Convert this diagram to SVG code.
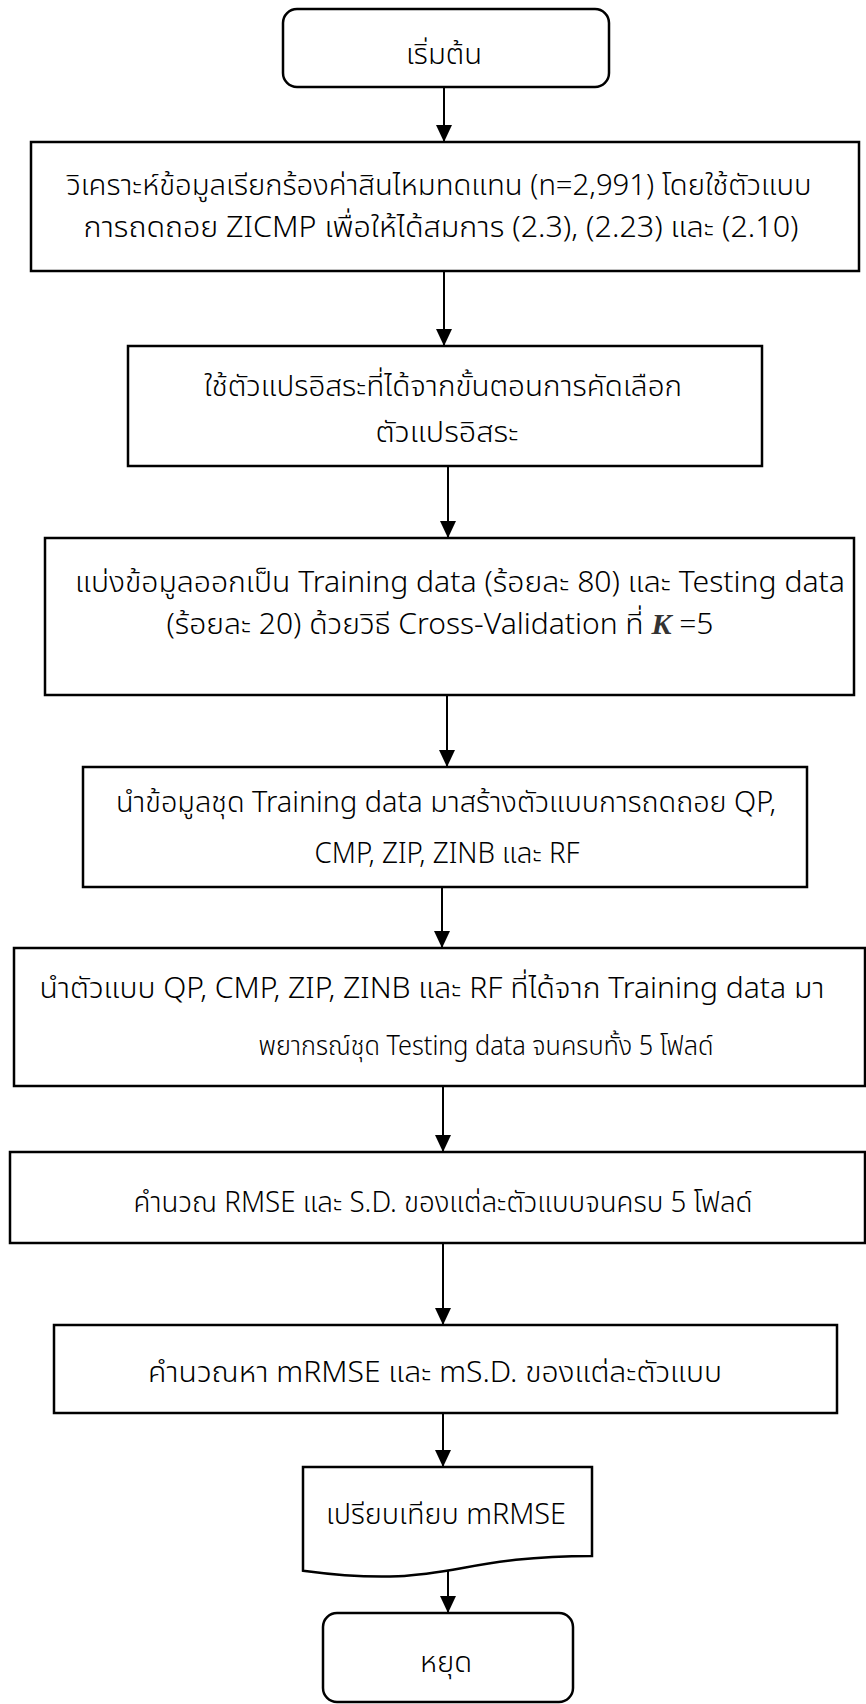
<svg xmlns="http://www.w3.org/2000/svg" width="866" height="1704" viewBox="0 0 866 1704">
<defs>
<marker id="ah" markerWidth="17" markerHeight="16" refX="17" refY="8" orient="auto" markerUnits="userSpaceOnUse">
<path d="M0,0 L17,8 L0,16 Z" fill="#000"/>
</marker>
<style>
.box{fill:#fff;stroke:#000;stroke-width:2.5}
.t{font-family:"Noto Sans Thai","Noto Sans Thai UI","Leelawadee UI",Tahoma,"Noto Sans",sans-serif;font-size:29px;font-weight:300;fill:#000;text-anchor:middle}
.s{font-size:27px}
.k{font-family:"Liberation Serif",serif;font-style:italic;font-weight:bold;fill:#333}
.c{stroke:#000;stroke-width:2;fill:none;marker-end:url(#ah)}
</style>
</defs>
<rect width="866" height="1704" fill="#fff"/>
<g id="connectors">
<line class="c" x1="444" y1="87" x2="444" y2="142"/>
<line class="c" x1="444" y1="271" x2="444" y2="346"/>
<line class="c" x1="448" y1="466" x2="448" y2="538"/>
<line class="c" x1="447" y1="695" x2="447" y2="767"/>
<line class="c" x1="442" y1="887" x2="442" y2="948"/>
<line class="c" x1="443" y1="1086" x2="443" y2="1152"/>
<line class="c" x1="443" y1="1243" x2="443" y2="1325"/>
<line class="c" x1="443" y1="1413" x2="443" y2="1467"/>
<line class="c" x1="448" y1="1570" x2="448" y2="1613"/>
</g>
<g id="start">
<rect class="box" x="283" y="9" width="326" height="78" rx="14"/>
<text class="t" x="444" y="64" textLength="76" lengthAdjust="spacingAndGlyphs">เริ่มต้น</text>
</g>
<g id="analyze">
<rect class="box" x="31" y="142" width="828" height="129"/>
<text class="t" x="439" y="195" textLength="745" lengthAdjust="spacingAndGlyphs">วิเคราะห์ข้อมูลเรียกร้องค่าสินไหมทดแทน (n=2,991) โดยใช้ตัวแบบ</text>
<text class="t" x="441" y="237" textLength="715" lengthAdjust="spacingAndGlyphs">การถดถอย ZICMP เพื่อให้ได้สมการ (2.3), (2.23) และ (2.10)</text>
</g>
<g id="variables">
<rect class="box" x="128" y="346" width="634" height="120"/>
<text class="t" x="443" y="396" textLength="478" lengthAdjust="spacingAndGlyphs">ใช้ตัวแปรอิสระที่ได้จากขั้นตอนการคัดเลือก</text>
<text class="t" x="447" y="442" textLength="143" lengthAdjust="spacingAndGlyphs">ตัวแปรอิสระ</text>
</g>
<g id="split">
<rect class="box" x="45" y="538" width="809" height="157"/>
<text class="t" x="460" y="592" textLength="770" lengthAdjust="spacingAndGlyphs">แบ่งข้อมูลออกเป็น Training data (ร้อยละ 80) และ Testing data</text>
<text class="t" x="440" y="634" textLength="547" lengthAdjust="spacingAndGlyphs">(ร้อยละ 20) ด้วยวิธี Cross-Validation ที่ <tspan class="k">K</tspan> =5</text>
</g>
<g id="train">
<rect class="box" x="83" y="767" width="724" height="120"/>
<text class="t" x="446" y="812" textLength="660" lengthAdjust="spacingAndGlyphs">นำข้อมูลชุด Training data มาสร้างตัวแบบการถดถอย QP,</text>
<text class="t" x="447" y="863" textLength="265" lengthAdjust="spacingAndGlyphs">CMP, ZIP, ZINB และ RF</text>
</g>
<g id="predict">
<rect class="box" x="14" y="948" width="851" height="138"/>
<text class="t" x="432" y="998" textLength="785" lengthAdjust="spacingAndGlyphs">นำตัวแบบ QP, CMP, ZIP, ZINB และ RF ที่ได้จาก Training data  มา</text>
<text class="t s" x="486" y="1055" textLength="455" lengthAdjust="spacingAndGlyphs">พยากรณ์ชุด Testing data จนครบทั้ง 5 โฟลด์</text>
</g>
<g id="rmse">
<rect class="box" x="10" y="1152" width="855" height="91"/>
<text class="t" x="443" y="1212" textLength="619" lengthAdjust="spacingAndGlyphs">คำนวณ RMSE และ S.D. ของแต่ละตัวแบบจนครบ 5 โฟลด์</text>
</g>
<g id="mrmse">
<rect class="box" x="54" y="1325" width="783" height="88"/>
<text class="t" x="435" y="1382" textLength="574" lengthAdjust="spacingAndGlyphs">คำนวณหา mRMSE และ mS.D. ของแต่ละตัวแบบ</text>
</g>
<g id="compare">
<path class="box" d="M303,1467 H592 V1556 C447.5,1556 447.5,1590 303,1570.7 Z"/>
<text class="t" x="446" y="1524" textLength="240" lengthAdjust="spacingAndGlyphs">เปรียบเทียบ mRMSE</text>
</g>
<g id="stop">
<rect class="box" x="323" y="1613" width="250" height="89" rx="14"/>
<text class="t" x="446" y="1672" textLength="52" lengthAdjust="spacingAndGlyphs">หยุด</text>
</g>
</svg>
